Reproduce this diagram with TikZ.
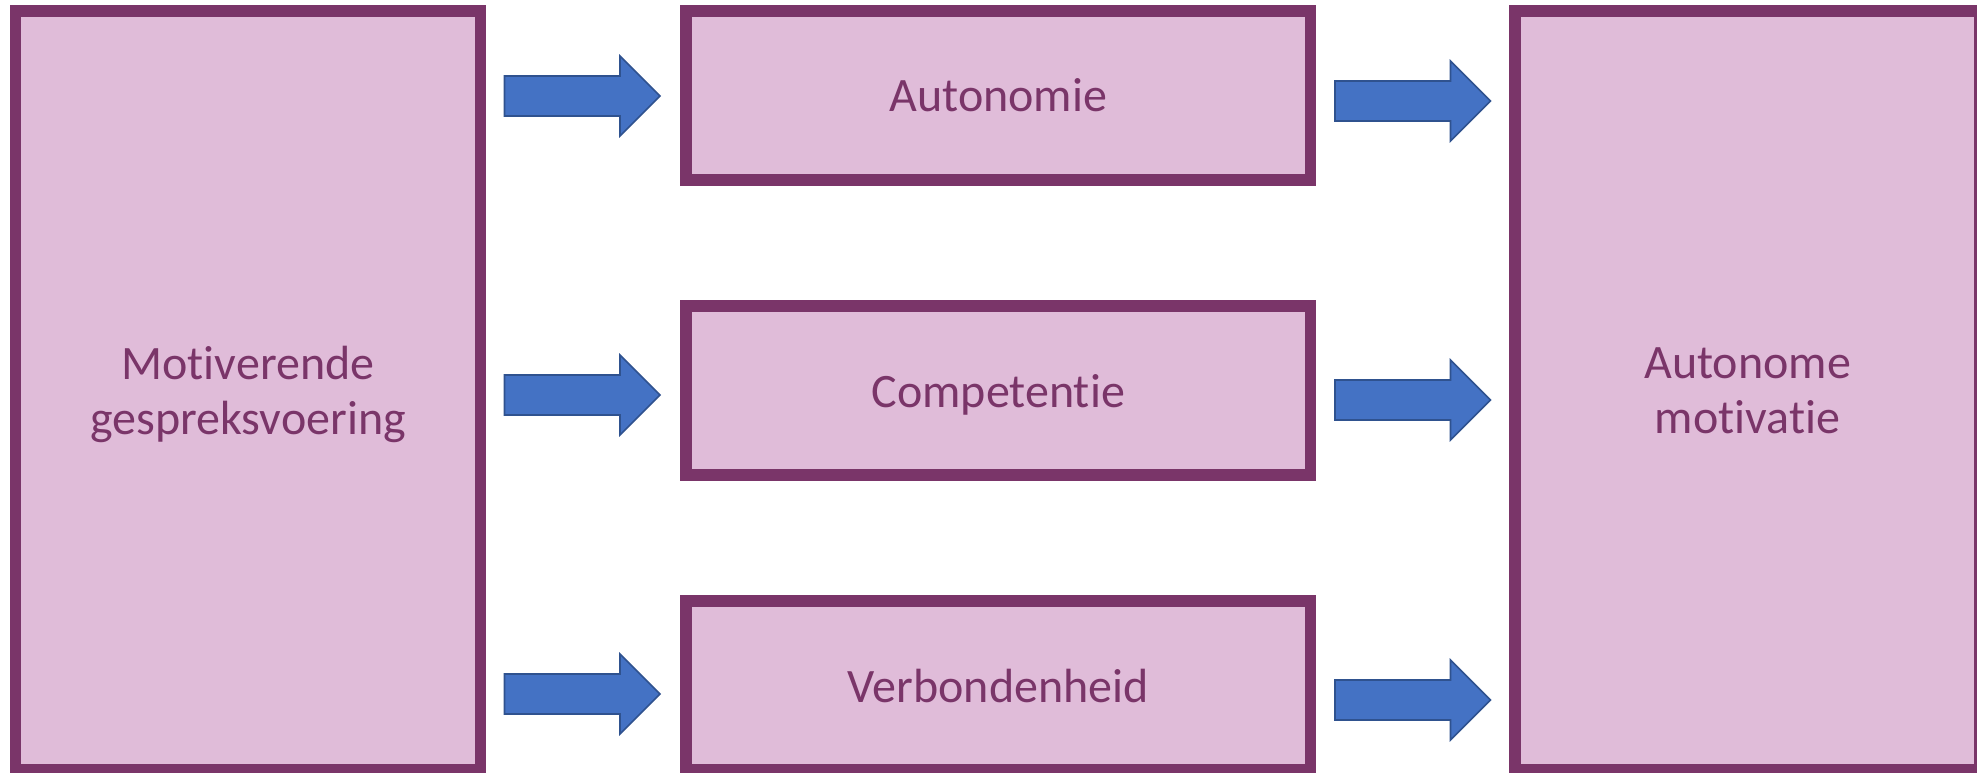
\documentclass[tikz,border=0pt]{standalone}
\usepackage{fontspec}
\setmainfont{Carlito}[Ligatures=NoCommon]
\definecolor{boxline}{HTML}{7A3569}
\definecolor{boxfill}{HTML}{E0BCD9}
\definecolor{arrfill}{HTML}{4472C4}
\definecolor{arrline}{HTML}{2F528F}
\begin{document}
\begin{tikzpicture}[x=1pt,y=-1pt,
  box/.style={draw=boxline, fill=boxfill, line width=11.5pt, inner sep=0pt, outer sep=0pt,
    text=boxline, font=\fontsize{48}{55.5}\selectfont, align=center},
  bigbox/.style={box, minimum width=465pt, minimum height=759pt, text depth=0pt},
  midbox/.style={box, minimum width=624.3pt, minimum height=169pt, text height=33pt, text depth=0pt},
  arrowshape/.style={draw=arrline, fill=arrfill, line width=1.6pt},
  blockarrow/.pic={\draw[arrowshape] (0,-20) -- (115.5,-20) -- (115.5,-40) -- (155.5,0) -- (115.5,40) -- (115.5,20) -- (0,20) -- cycle;}
]
\useasboundingbox (0,0) rectangle (1977,773);
\clip (0,0) rectangle (1977,773);
\node[bigbox] (mgv) at (248,390.5) {Motiverende\\gespreksvoering};
\node[midbox] (aut) at (998.25,95.5) {Autonomie};
\node[midbox] (comp) at (998.25,390.5) {Competentie};
\node[midbox] (verb) at (998.25,685.5) {Verbondenheid};
\node[bigbox] (am) at (1747.6,390.5) {Autonome\\motivatie};
\path (504.5,96) pic {blockarrow};
\path (504.5,395) pic {blockarrow};
\path (504.5,694) pic {blockarrow};
\path (1335,101) pic {blockarrow};
\path (1335,400) pic {blockarrow};
\path (1335,700) pic {blockarrow};
\end{tikzpicture}
\end{document}
